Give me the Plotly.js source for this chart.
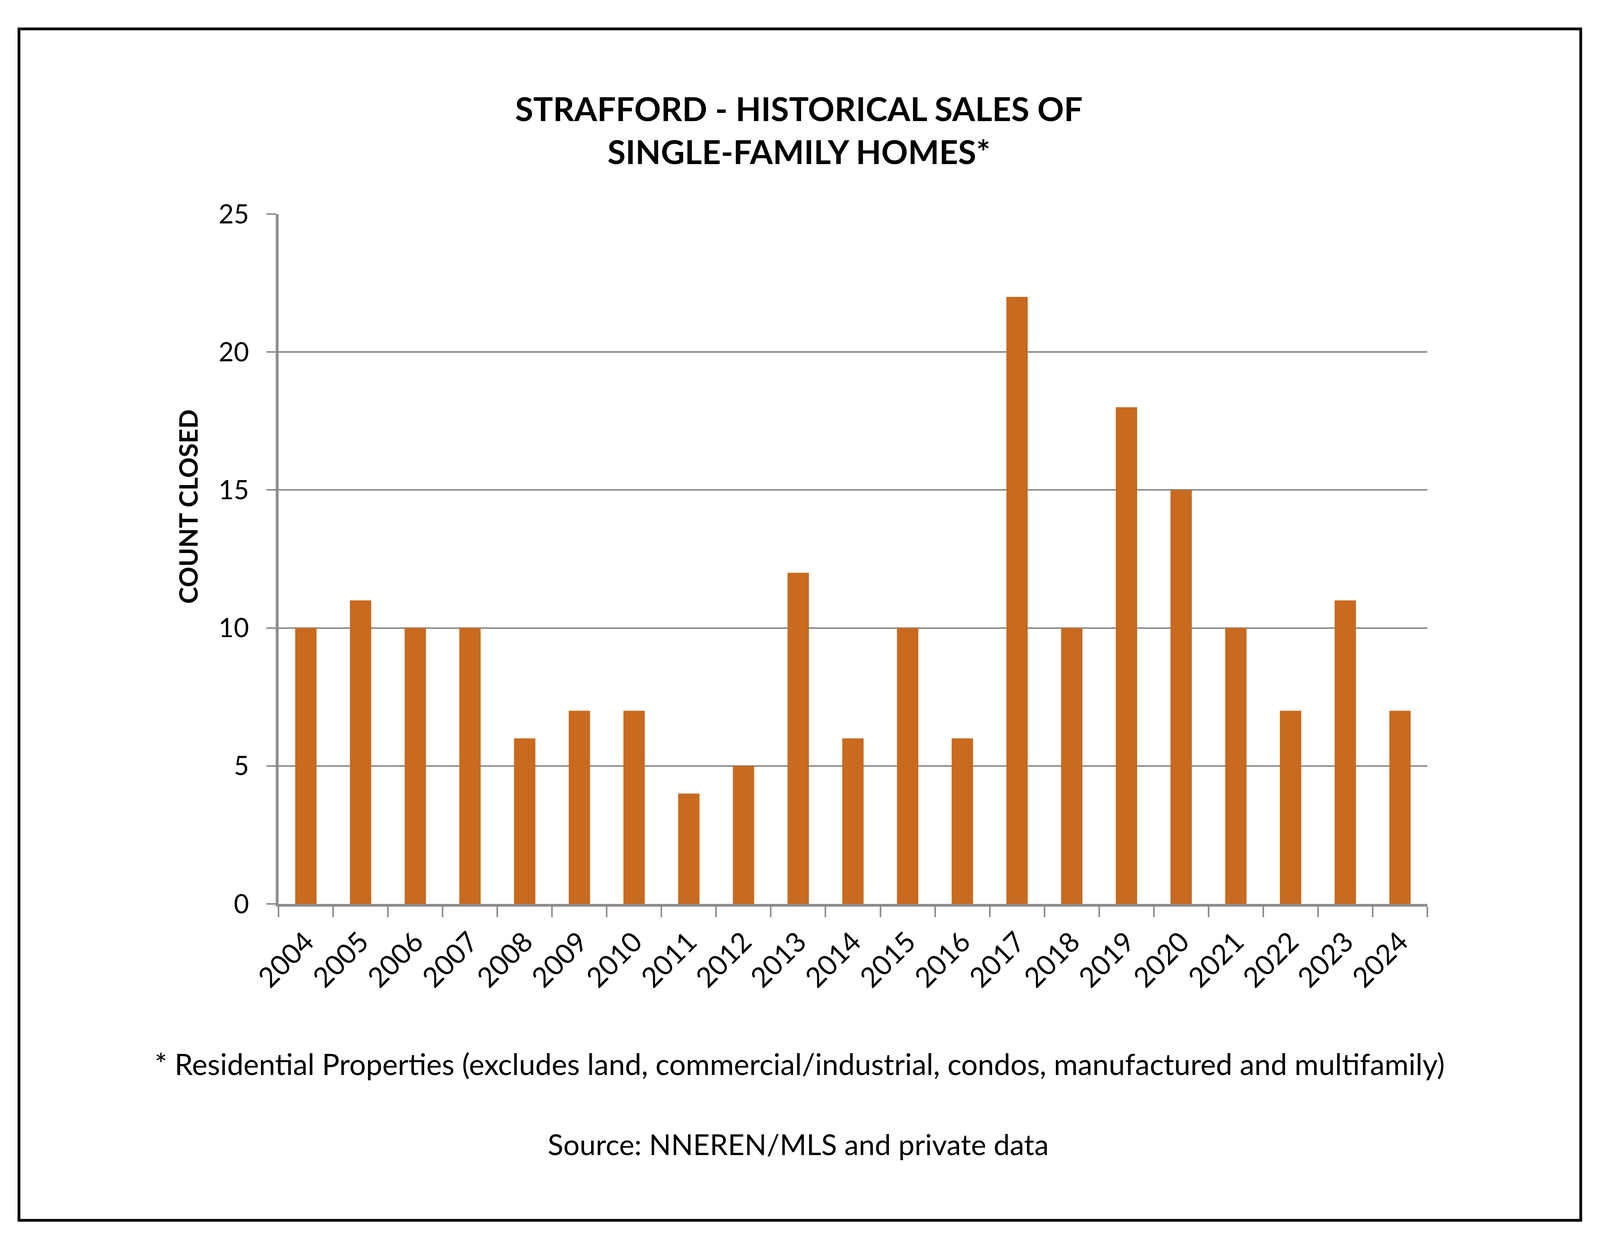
<!DOCTYPE html>
<html>
<head>
<meta charset="utf-8">
<script src="https://cdn.plot.ly/plotly-3.0.1.min.js"></script>
<style>
  html, body { margin: 0; padding: 0; background: #ffffff; overflow: hidden; }
  #chart { width: 100vw; height: 100vh; }
</style>
</head>
<body>
<div id="chart"></div>
<script>
// ---- data ----
const years = ['2004','2005','2006','2007','2008','2009','2010','2011','2012','2013','2014',
               '2015','2016','2017','2018','2019','2020','2021','2022','2023','2024'];
const countClosed = [10, 11, 10, 10, 6, 7, 7, 4, 5, 12, 6, 10, 6, 22, 10, 18, 15, 10, 7, 11, 7];
const yTickValues = [0, 5, 10, 15, 20, 25];

const titleText = 'STRAFFORD - HISTORICAL SALES OF<br>SINGLE-FAMILY HOMES*';
const yTitleText = 'COUNT CLOSED';
const footnoteText = '* Residential Properties (excludes land, commercial/industrial, condos, manufactured and multifamily)';
const sourceText = 'Source: NNEREN/MLS and private data';

// ---- styling ----
const barColor = '#C86A1F';
const axisGray = '#8c8c8c';
const fontFamily = 'Lato, "Open Sans", "Noto Sans", sans-serif';

// The reference is 4266x3200; fit the same proportions to the actual viewport.
const REF_W = 4266, REF_H = 3200;
const W = window.innerWidth || REF_W;
const H = window.innerHeight || REF_H;
const sx = W / REF_W, sy = H / REF_H;
const fs = Math.min(sx, sy);

// plot area in reference pixels
const PL = 743, PR = 3806, PT = 548, PB = 2314;
const pw = PR - PL, ph = PB - PT;
const px = v => (v - PL) / pw;          // reference x pixel -> paper x
const py = v => (PB - v) / ph;          // reference y pixel -> paper y

const trace = {
  type: 'bar',
  x: years,
  y: countClosed,
  marker: { color: barColor, line: { width: 0 } },
  hoverinfo: 'x+y'
};

const layout = {
  width: W,
  height: H,
  margin: { l: PL * sx, r: (REF_W - PR) * sx, t: PT * sy, b: (REF_H - PB) * sy, pad: 0 },
  paper_bgcolor: '#ffffff',
  plot_bgcolor: '#ffffff',
  showlegend: false,
  bargap: 0.61,
  font: { family: fontFamily, color: '#000000' },
  title: {
    text: titleText,
    font: { family: fontFamily, size: 88 * fs, color: '#000000', weight: 'bold' },
    xref: 'container', x: 2130 / REF_W, xanchor: 'center',
    yref: 'container', y: 1 - 310 / REF_H, yanchor: 'middle'
  },
  xaxis: {
    type: 'category',
    tickangle: -45,
    ticks: 'outside',
    tickson: 'boundaries',
    ticklen: Math.round(27 * sy),
    tickwidth: 4,
    tickcolor: axisGray,
    showline: true,
    linewidth: 7,
    linecolor: axisGray,
    showgrid: false,
    zeroline: false,
    tickfont: { family: fontFamily, size: 74 * fs, color: '#000000' },
    ticklabelstandoff: Math.round(20 * sy),
    fixedrange: true
  },
  yaxis: {
    range: [0, 25],
    tickmode: 'array',
    tickvals: yTickValues,
    ticktext: yTickValues.map(String),
    ticks: 'outside',
    ticklen: Math.round(25 * sx),
    tickwidth: 4,
    tickcolor: axisGray,
    showline: true,
    linewidth: 7,
    linecolor: axisGray,
    showgrid: true,
    gridcolor: axisGray,
    gridwidth: 4,
    zeroline: false,
    tickfont: { family: fontFamily, size: 70 * fs, color: '#000000' },
    ticklabelstandoff: Math.round(32 * sx),
    fixedrange: true
  },
  annotations: [
    {
      text: yTitleText,
      textangle: -90,
      xref: 'paper', yref: 'paper',
      x: px(501), y: py(1297),
      xanchor: 'center', yanchor: 'middle',
      showarrow: false,
      font: { family: fontFamily, size: 68 * fs, color: '#000000', weight: 'bold' }
    },
    {
      text: footnoteText,
      xref: 'paper', yref: 'paper',
      x: px(2133), y: py(2723),
      xanchor: 'center', yanchor: 'middle',
      showarrow: false,
      font: { family: fontFamily, size: 78 * fs, color: '#000000' }
    },
    {
      text: sourceText,
      xref: 'paper', yref: 'paper',
      x: px(2129), y: py(2928),
      xanchor: 'center', yanchor: 'middle',
      showarrow: false,
      font: { family: fontFamily, size: 77 * fs, color: '#000000' }
    }
  ],
  shapes: [
    {
      type: 'rect',
      xref: 'paper', yref: 'paper',
      x0: px(51), x1: px(4215),
      y0: py(3124), y1: py(74),
      line: { color: '#000000', width: 7 },
      fillcolor: 'rgba(0,0,0,0)',
      layer: 'above'
    }
  ]
};

Plotly.newPlot('chart', [trace], layout, { displayModeBar: false, staticPlot: true, responsive: false });
</script>
</body>
</html>
